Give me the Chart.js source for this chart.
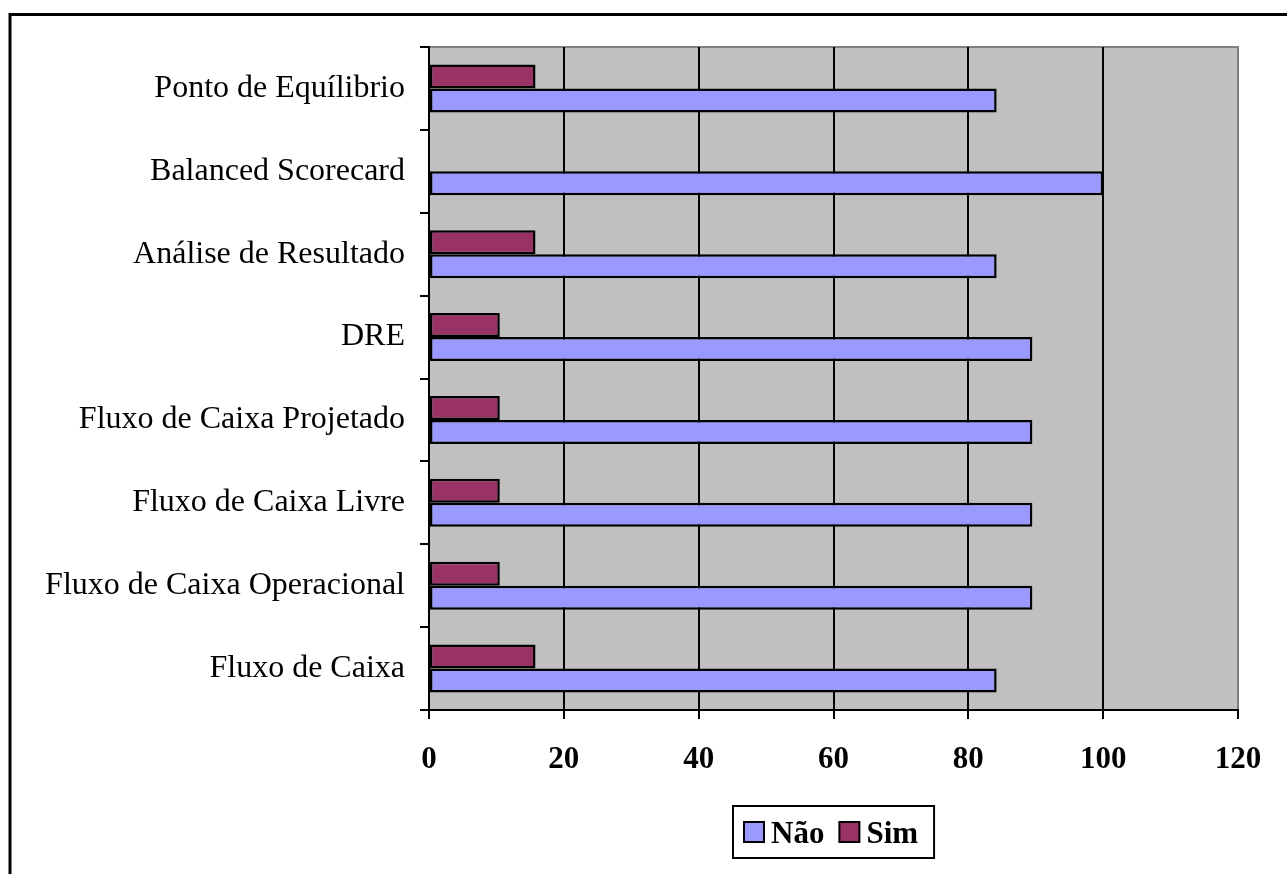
<!DOCTYPE html>
<html>
<head>
<meta charset="utf-8">
<style>
  html, body { margin: 0; padding: 0; background: #ffffff; }
  #wrap { width: 1287px; height: 874px; }
</style>
<script src="https://cdn.jsdelivr.net/npm/chart.js@4/dist/chart.umd.min.js"></script>
</head>
<body>
<div id="wrap"><canvas id="c" width="1287" height="874"></canvas></div>
<script>
// Ferramentas de gestão: percentual de respostas "Sim" / "Não"
const categories = [
  'Ponto de Equílibrio',
  'Balanced Scorecard',
  'Análise de Resultado',
  'DRE',
  'Fluxo de Caixa Projetado',
  'Fluxo de Caixa Livre',
  'Fluxo de Caixa Operacional',
  'Fluxo de Caixa'
];
const simValues = [15.8, 0, 15.8, 10.5, 10.5, 10.5, 10.5, 15.8];
const naoValues = [84.2, 100, 84.2, 89.5, 89.5, 89.5, 89.5, 84.2];
const xTicks = [0, 20, 40, 60, 80, 100, 120];

const SERIF = '"Liberation Serif", "Times New Roman", serif';

// Plot background, frame and outer border
const framePlugin = {
  id: 'frame',
  beforeDraw(chart) {
    const { ctx, chartArea: a } = chart;
    ctx.save();
    ctx.fillStyle = '#ffffff';
    ctx.fillRect(0, 0, chart.width, chart.height);
    ctx.fillStyle = '#C0C0C0';
    ctx.fillRect(a.left, a.top, a.right - a.left, a.bottom - a.top);
    ctx.strokeStyle = '#808080';
    ctx.lineWidth = 2;
    ctx.beginPath();
    ctx.moveTo(a.left, a.top);
    ctx.lineTo(a.right, a.top);
    ctx.lineTo(a.right, a.bottom);
    ctx.stroke();
    // outer border
    ctx.strokeStyle = '#000000';
    ctx.lineWidth = 3;
    ctx.beginPath();
    ctx.moveTo(10, chart.height + 2);
    ctx.lineTo(10, 14.5);
    ctx.lineTo(chart.width + 2, 14.5);
    ctx.stroke();
    ctx.restore();
  }
};

// Boxed legend centred under the plot area (Não, Sim)
const boxedLegend = {
  id: 'boxedLegend',
  afterDraw(chart) {
    const { ctx, chartArea: a } = chart;
    const order = [1, 0];
    ctx.save();
    ctx.font = 'bold 31px ' + SERIF;
    ctx.textBaseline = 'alphabetic';
    const sq = 20, gapText = 7, gapItem = 15, padL = 11, padR = 16;
    const items = order.map(i => {
      const ds = chart.data.datasets[i];
      return { ds, w: ctx.measureText(ds.label).width };
    });
    let total = padL + padR;
    items.forEach((it, k) => { total += sq + gapText + it.w + (k ? gapItem : 0); });
    const cx = (a.left + a.right) / 2;
    const top = 806, h = 52;
    let x = Math.round(cx - total / 2);
    ctx.strokeStyle = '#000';
    ctx.lineWidth = 2;
    ctx.strokeRect(x, top, total, h);
    x += padL;
    items.forEach((it, k) => {
      if (k) x += gapItem;
      ctx.fillStyle = it.ds.backgroundColor;
      ctx.fillRect(x, 822, sq, sq);
      ctx.strokeRect(x, 822, sq, sq);
      x += sq + gapText;
      ctx.fillStyle = '#000';
      ctx.fillText(it.ds.label, x, 843);
      x += it.w;
    });
    ctx.restore();
  }
};

new Chart(document.getElementById('c'), {
  type: 'bar',
  data: {
    labels: categories,
    datasets: [
      {
        label: 'Sim',
        data: simValues,
        backgroundColor: '#993366',
        borderColor: '#000000',
        borderWidth: 2.5,
        borderSkipped: false
      },
      {
        label: 'Não',
        data: naoValues,
        backgroundColor: '#9999FF',
        borderColor: '#000000',
        borderWidth: 2.5,
        borderSkipped: false
      }
    ]
  },
  options: {
    indexAxis: 'y',
    responsive: false,
    animation: false,
    devicePixelRatio: 1,
    categoryPercentage: 0.58,
    barPercentage: 1.0,
    layout: { padding: { left: 0, top: 47, right: 49, bottom: 0 } },
    plugins: {
      legend: { display: false },
      tooltip: { enabled: false }
    },
    scales: {
      x: {
        min: 0,
        max: 120,
        afterBuildTicks(scale) { scale.ticks = xTicks.map(v => ({ value: v })); },
        afterFit(scale) { scale.height = 164; },
        grid: {
          color: (c) => (c.tick && c.tick.value === 120 ? '#808080' : '#000000'),
          lineWidth: 2,
          tickColor: '#000000',
          tickLength: 9,
          drawOnChartArea: true
        },
        border: { color: '#000000', width: 2 },
        ticks: {
          color: '#000000',
          padding: 22,
          font: { family: SERIF, size: 31, weight: 'bold' }
        }
      },
      y: {
        afterFit(scale) { scale.width = 429; },
        grid: {
          offset: true,
          drawOnChartArea: false,
          color: '#000000',
          tickColor: '#000000',
          lineWidth: 2,
          tickLength: 9
        },
        border: { color: '#000000', width: 2 },
        ticks: {
          color: '#000000',
          padding: 15,
          font: { family: SERIF, size: 32 }
        }
      }
    }
  },
  plugins: [framePlugin, boxedLegend]
});
</script>
</body>
</html>
